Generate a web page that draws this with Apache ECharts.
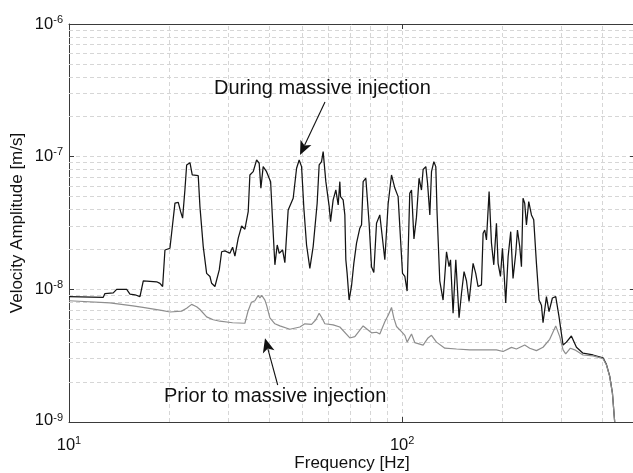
<!DOCTYPE html>
<html><head><meta charset="utf-8">
<script src="https://cdn.jsdelivr.net/npm/echarts@6/dist/echarts.min.js"></script>
<style>html,body{margin:0;padding:0;background:#fff;}#c{width:633px;height:473px;}</style>
</head><body><div id="c"></div>
<script>
// Frequency [Hz] and amplitude [nm/s]
const duringFreq = [10.0, 12.67, 12.82, 12.98, 13.58, 13.9, 14.9, 15.24, 15.78, 16.33,
  16.52, 16.71, 18.33, 18.75, 19.1, 19.41, 20.09, 20.8, 21.28, 21.63,
  21.93, 22.28, 22.55, 23.07, 23.44, 24.43, 24.72, 25.29, 25.89, 26.49,
  26.8, 27.42, 27.74, 28.25, 28.72, 29.38, 30.41, 30.98, 31.48, 32.21,
  32.98, 33.73, 34.51, 34.91, 35.72, 36.57, 37.23, 37.67, 38.27, 39.18,
  40.29, 41.02, 41.5, 42.17, 42.76, 43.76, 44.46, 45.49, 47.09, 48.21,
  49.08, 49.9, 50.7, 51.65, 52.84, 54.06, 55.58, 56.35, 57.29, 57.93,
  59.02, 60.4, 60.97, 62.07, 63.24, 64.27, 65.01, 65.33, 66.51, 67.3,
  67.76, 68.37, 69.32, 70.48, 71.61, 72.96, 74.64, 75.53, 76.37, 77.8,
  78.5, 79.59, 80.92, 82.22, 83.77, 85.7, 87.0, 88.72, 90.77, 92.92,
  95.06, 96.19, 97.25, 98.88, 100.25, 101.9, 103.5, 105.4, 106.7, 108.5,
  110.4, 112.4, 114.3, 115.6, 117.8, 119.2, 121.1, 122.5, 124.5, 126.2,
  127.3, 129.7, 132.7, 135.9, 138.3, 139.7, 142.2, 144.9, 147.2, 148.2,
  150.7, 153.4, 156.0, 158.8, 163.3, 166.3, 169.0, 173.0, 175.0, 177.0,
  179.1, 182.4, 185.4, 188.4, 191.9, 194.1, 197.3, 200.0, 202.3, 204.6,
  208.0, 211.8, 215.2, 219.3, 221.9, 225.4, 228.1, 230.6, 233.3, 236.1,
  239.9, 244.4, 248.3, 253.0, 257.6, 261.9, 264.8, 271.1, 276.0, 282.5,
  289.1, 295.8, 304.1, 311.2, 322.1, 333.6, 349.1, 374.1, 400.8, 410.3,
  419.8, 427.7, 434.5];
const duringAmp = [8.8, 8.7, 9.3, 9.4, 9.4, 10.0, 10.0, 9.2, 9.1, 8.8,
  8.6, 11.6, 11.4, 11.1, 10.5, 19.8, 20.4, 44.6, 45.3, 38.5,
  34.4, 56.1, 86.6, 90.1, 72.8, 71.9, 42.0, 21.0, 13.2, 12.5,
  11.1, 10.5, 10.4, 14.0, 19.2, 19.5, 18.7, 20.8, 17.8, 24.3,
  30.0, 28.4, 38.5, 72.8, 77.1, 94.4, 89.2, 57.8, 84.1, 77.1,
  64.8, 26.5, 15.3, 21.6, 18.7, 19.8, 15.9, 39.7, 48.6, 81.8,
  94.4, 84.1, 40.9, 21.6, 14.4, 21.0, 44.6, 86.6, 91.7, 109.1,
  64.8, 42.0, 32.4, 47.2, 56.1, 43.3, 64.8, 49.9, 47.2, 36.4,
  16.7, 13.2, 8.3, 10.6, 15.7, 22.3, 28.9, 30.6, 64.8, 68.8,
  66.7, 31.5, 14.8, 13.4, 31.5, 36.4, 26.0, 16.7, 44.0, 72.8,
  58.0, 60.0, 50.0, 24.0, 13.2, 12.5, 9.7, 53.0, 56.1, 24.0,
  35.0, 68.8, 56.0, 80.0, 84.1, 63.0, 36.4, 77.1, 91.7, 84.1,
  38.0, 11.6, 8.3, 19.2, 14.8, 16.7, 6.6, 16.7, 8.3, 6.1,
  9.3, 13.6, 11.6, 8.1, 15.7, 13.2, 10.5, 10.8, 26.5, 28.0,
  23.6, 54.5, 22.3, 15.3, 31.5, 15.7, 12.5, 20.4, 13.2, 7.9,
  17.6, 27.2, 12.1, 18.7, 28.0, 21.0, 14.8, 48.6, 44.6, 30.6,
  45.8, 36.4, 33.4, 15.7, 8.3, 7.6, 5.6, 8.8, 6.8, 8.6,
  8.8, 6.2, 3.8, 4.0, 4.45, 3.66, 3.3, 3.2, 3.05, 2.72,
  2.22, 1.66, 1.0];
const priorFreq = [10.0, 13.27, 15.56, 16.67, 19.14, 20.09, 21.78, 22.55, 23.34, 24.16,
  24.72, 25.89, 27.1, 28.38, 30.98, 33.73, 34.43, 35.28, 36.14, 36.98,
  37.41, 37.9, 38.73, 39.18, 40.09, 41.5, 42.95, 46.03, 49.32, 51.05,
  53.47, 55.08, 56.35, 57.41, 58.61, 62.07, 65.01, 69.66, 72.11, 76.37,
  80.92, 83.77, 85.7, 88.72, 90.9, 92.92, 94.4, 96.19, 99.56, 101.9,
  103.5, 106.7, 109.1, 115.6, 119.6, 122.5, 126.8, 134.3, 145.6, 159.6,
  175.0, 191.9, 200.9, 212.9, 220.3, 233.3, 241.5, 253.0, 264.8, 277.3,
  289.1, 297.2, 304.1, 309.7, 319.9, 329.6, 349.1, 374.1, 400.8, 410.3,
  419.8, 427.7, 434.5];
const priorAmp = [8.2, 7.9, 7.5, 7.3, 6.9, 6.75, 6.85, 7.2, 7.7, 7.4,
  7.05, 6.2, 5.9, 5.75, 5.6, 5.55, 6.8, 8.0, 8.2, 9.0,
  8.6, 9.0, 8.3, 7.6, 6.1, 5.5, 5.3, 5.0, 5.2, 5.5,
  5.45, 5.9, 6.6, 6.1, 5.5, 5.4, 5.2, 4.3, 4.4, 5.3,
  4.7, 4.75, 4.6, 5.7, 6.4, 7.3, 6.1, 5.25, 4.8, 4.5,
  4.0, 4.6, 3.97, 3.8, 4.3, 4.5, 4.0, 3.6, 3.55, 3.5,
  3.5, 3.5, 3.4, 3.65, 3.55, 3.8, 3.6, 3.45, 3.66, 4.2,
  5.3, 4.4, 3.5, 3.26, 3.6, 3.5, 3.2, 3.15, 3.0, 2.7,
  2.2, 1.65, 1.0];
const xMinorGrid = [20, 30, 40, 50, 60, 70, 80, 90, 200, 300, 400];
const yMinorGrid = [2e-9, 3e-9, 4e-9, 5e-9, 6e-9, 7e-9, 8e-9, 9e-9,
  2e-8, 3e-8, 4e-8, 5e-8, 6e-8, 7e-8, 8e-8, 9e-8,
  2e-7, 3e-7, 4e-7, 5e-7, 6e-7, 7e-7, 8e-7, 9e-7];
const xRange = [10, 500];
const yRange = [1e-9, 1e-6];
const labelDuring = 'During massive injection';
const labelPrior = 'Prior to massive injection';
const xTitle = 'Frequency [Hz]';
const yTitle = 'Velocity Amplitude [m/s]';

const NM = 1e-9;
const FONT = '"Liberation Sans", Arial, Helvetica, sans-serif';
const TXT = '#111';
const duringData = duringFreq.map((f, i) => [f, duringAmp[i] * NM]);
const priorData = priorFreq.map((f, i) => [f, priorAmp[i] * NM]);

function powLabel(v, low) {
  const e = Math.round(Math.log10(v));
  if (Math.abs(Math.log10(v) - e) > 1e-6) return '';
  if (low) return '{bl|10}{sl|' + e + '}';
  return '{b|10}{s|' + e + '}';
}
const rich = {
  b: {fontSize: 16.5, fontFamily: FONT, color: TXT, lineHeight: 20, verticalAlign: 'middle'},
  s: {fontSize: 11, fontFamily: FONT, color: TXT, lineHeight: 8, verticalAlign: 'top'},
  bl: {fontSize: 16.5, fontFamily: FONT, color: TXT, lineHeight: 20, verticalAlign: 'top', padding: [0, 0, 22, 0]},
  sl: {fontSize: 11, fontFamily: FONT, color: TXT, lineHeight: 8, verticalAlign: 'top'}
};
const gridLine = {color: '#d6d6d6', width: 1, type: [4, 3]};
const axisCol = '#3a3a3a';

const chart = echarts.init(document.getElementById('c'), null, {renderer: 'canvas'});

function arrow(x0, y0, tx, ty) {
  const dx = tx - x0, dy = ty - y0, L = Math.hypot(dx, dy);
  const ux = dx / L, uy = dy / L, nx = -uy, ny = ux;
  const hl = 14, hw = 6, notch = 10.5;
  const bx = tx - hl * ux, by = ty - hl * uy;
  const mx = tx - notch * ux, my = ty - notch * uy;
  return [
    {type: 'line', shape: {x1: x0, y1: y0, x2: mx, y2: my}, style: {stroke: '#111', lineWidth: 1.1}, z: 20},
    {type: 'polygon', shape: {points: [[tx, ty], [bx + hw * nx, by + hw * ny], [mx, my], [bx - hw * nx, by - hw * ny]]},
      style: {fill: '#111'}, z: 20}
  ];
}

const minorLines = xMinorGrid.map(v => [{coord: [v, yRange[0]]}, {coord: [v, yRange[1]]}])
  .concat(yMinorGrid.map(v => [{coord: [xRange[0], v]}, {coord: [xRange[1], v]}]));

const option = {
  animation: false,
  backgroundColor: '#fff',
  grid: {left: 69, top: 24, width: 566, height: 398, containLabel: false, outerBoundsMode: 'none'},
  xAxis: [{
    type: 'log', logBase: 10, min: xRange[0], max: xRange[1], position: 'bottom',
    name: xTitle, nameLocation: 'middle', nameGap: 33, nameMoveOverlap: false,
    nameTextStyle: {fontSize: 17, color: TXT, fontFamily: FONT},
    axisLine: {show: true, onZero: false, lineStyle: {color: axisCol, width: 1}},
    axisTick: {show: true, inside: true, length: 5, lineStyle: {color: axisCol}},
    axisLabel: {margin: 13, showMaxLabel: false, formatter: v => powLabel(v, false), rich: rich},
    splitLine: {show: true, lineStyle: gridLine}
  }, {
    type: 'log', logBase: 10, min: xRange[0], max: xRange[1], position: 'top',
    axisLine: {show: true, onZero: false, lineStyle: {color: axisCol, width: 1}},
    axisTick: {show: true, inside: true, length: 5, lineStyle: {color: axisCol}},
    axisLabel: {show: false}, splitLine: {show: false}
  }],
  yAxis: [{
    type: 'log', logBase: 10, min: yRange[0], max: yRange[1], position: 'left',
    name: yTitle, nameLocation: 'middle', nameGap: 43, nameMoveOverlap: false,
    nameTextStyle: {fontSize: 17, color: TXT, fontFamily: FONT},
    axisLine: {show: true, onZero: false, lineStyle: {color: axisCol, width: 1}},
    axisTick: {show: true, inside: true, length: 5, lineStyle: {color: axisCol}},
    axisLabel: {margin: 6, formatter: v => powLabel(v, Math.abs(v - yRange[0]) < 1e-15), rich: rich},
    splitLine: {show: true, lineStyle: gridLine}
  }, {
    type: 'log', logBase: 10, min: yRange[0], max: yRange[1], position: 'right',
    axisLine: {show: true, onZero: false, lineStyle: {color: axisCol, width: 1}},
    axisTick: {show: true, inside: true, length: 5, lineStyle: {color: axisCol}},
    axisLabel: {show: false}, splitLine: {show: false}
  }],
  series: [{
    name: 'grid', type: 'line', data: [], z: 1, silent: true,
    markLine: {
      silent: true, symbol: ['none', 'none'], animation: false, z: 1,
      label: {show: false}, emphasis: {disabled: true},
      lineStyle: gridLine,
      data: minorLines
    }
  }, {
    name: labelDuring, type: 'line', data: duringData, z: 3,
    showSymbol: false, symbol: 'none', clip: true,
    lineStyle: {color: '#141414', width: 1.25}
  }, {
    name: labelPrior, type: 'line', data: priorData, z: 4,
    showSymbol: false, symbol: 'none', clip: true,
    lineStyle: {color: '#8e8e8e', width: 1.2}
  }],
  graphic: [
    {type: 'text', left: 214, top: 78, z: 20,
      style: {text: labelDuring, fontSize: 20, fontFamily: FONT, fill: TXT}},
    {type: 'text', left: 164, top: 386, z: 20,
      style: {text: labelPrior, fontSize: 20, fontFamily: FONT, fill: TXT}}
  ].concat(arrow(325, 102, 300, 155)).concat(arrow(277.7, 385, 265, 338.3))
};
chart.setOption(option);
</script>
</body></html>
